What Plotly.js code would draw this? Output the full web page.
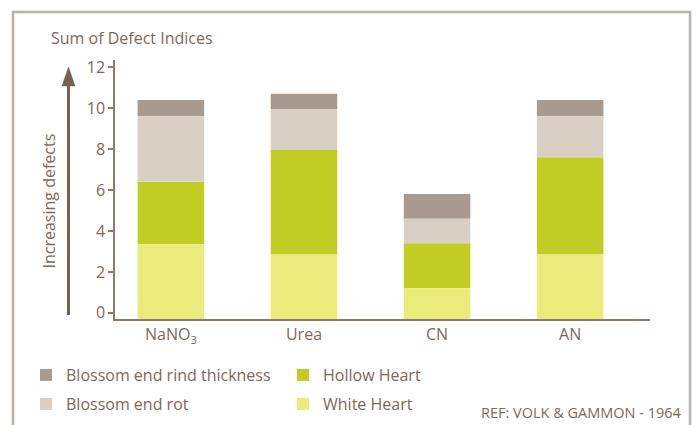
<!DOCTYPE html>
<html>
<head>
<meta charset="utf-8">
<script src="https://cdn.plot.ly/plotly-3.0.1.min.js"></script>
<style>html,body{margin:0;padding:0;background:#fff;}#chart{width:696px;height:425px;}</style>
</head>
<body>
<div id="chart"></div>
<script>
// ---- data ----
var categories = ["NaNO<sub>3</sub>", "Urea", "CN", "AN"];
var whiteHeart = [3.35, 2.85, 1.2, 2.85];
var hollowHeart = [3.05, 5.1, 2.2, 4.75];
var blossomEndRot = [3.2, 2.0, 1.2, 2.0];
var rindThickness = [0.8, 0.75, 1.2, 0.8];
var yTicks = [0, 2, 4, 6, 8, 10, 12];
var gridTicks = [2, 4, 6, 8, 10, 12];

// ---- layout constants ----
var W = 696, H = 425;
var M = {l: 115, r: 46, t: 60, b: 106, autoexpand: false};
var pw = W - M.l - M.r, ph = H - M.t - M.b;
function px(x) { return (x - M.l) / pw; }
function py(y) { return (H - M.b - y) / ph; }
var yMin = -0.3, yMax = 12.35;

var txt = "#7a695d";
var brown = "#8c7b6e";
var FONT = "Open Sans";

// bases from stacking
function add(a, b) { return a.map(function (v, i) { return v + b[i]; }); }
var base0 = categories.map(function () { return yMin; });
var whiteSeg = whiteHeart.map(function (v) { return v - yMin; });
var top1 = whiteHeart.slice();
var top2 = add(top1, hollowHeart);
var top3 = add(top2, blossomEndRot);

var common = {type: "bar", x: categories, width: 0.5, marker: {line: {width: 0}}, hoverinfo: "name+y"};
var data = [
  Object.assign({}, common, {name: "Blossom end rind thickness", y: rindThickness, base: top3, marker: {color: "#a89a8e"}, legend: "legend"}),
  Object.assign({}, common, {name: "Hollow Heart", y: hollowHeart, base: top1, marker: {color: "#c2cd23"}, legend: "legend"}),
  Object.assign({}, common, {name: "Blossom end rot", y: blossomEndRot, base: top2, marker: {color: "#d9cfc4"}, legend: "legend2"}),
  Object.assign({}, common, {name: "White Heart", y: whiteSeg, base: base0, marker: {color: "#ebeb7b"}, legend: "legend2"})
];

var legendCommon = {orientation: "h", xanchor: "left", yanchor: "middle", entrywidth: 212,
  font: {family: FONT, size: 16, color: txt}, bgcolor: "rgba(0,0,0,0)", itemclick: false, itemdoubleclick: false};

var layout = {
  width: W, height: H,
  margin: M,
  paper_bgcolor: "#ffffff", plot_bgcolor: "#ffffff",
  font: {family: FONT, size: 16, color: txt},
  barmode: "overlay",
  showlegend: true,
  title: {text: "Sum of Defect Indices", x: 51 / W, xref: "container", xanchor: "left",
          y: 1 - 38 / H, yref: "container", yanchor: "middle",
          font: {family: FONT, size: 16, color: txt}},
  xaxis: {type: "category", range: [-0.42, 3.6], showline: true, linecolor: brown, linewidth: 2,
          ticks: "", showgrid: false, zeroline: false, tickfont: {family: FONT, size: 16, color: txt}},
  yaxis: {range: [yMin, yMax], tickvals: yTicks, ticktext: yTicks.map(String), ticks: "outside", ticklen: 5,
          tickwidth: 1.5, tickcolor: brown, showline: true, linecolor: brown, linewidth: 1.5,
          showgrid: false, zeroline: false, tickfont: {family: FONT, size: 16, color: txt}},
  yaxis2: {overlaying: "y", anchor: "x", side: "left", range: [yMin, yMax], tickvals: gridTicks,
           showticklabels: false, ticks: "", showline: false, zeroline: false,
           showgrid: true, gridcolor: brown, gridwidth: 1.5},
  legend: Object.assign({}, legendCommon, {x: px(26), y: py(375)}),
  legend2: Object.assign({}, legendCommon, {x: px(26), y: py(404)}),
  shapes: [
    {type: "rect", xref: "paper", yref: "paper", x0: px(13), x1: px(690), y0: py(440), y1: py(12),
     line: {color: "#bdb2a9", width: 2.5}, fillcolor: "rgba(0,0,0,0)", layer: "below"},
    {type: "line", xref: "paper", yref: "paper", x0: px(68.5), x1: px(68.5), y0: py(315), y1: py(84),
     line: {color: "#76624f", width: 3}},
    {type: "path", xref: "paper", yref: "paper",
     path: "M" + px(62) + "," + py(86) + " L" + px(75) + "," + py(86) + " L" + px(68.5) + "," + py(67) + " Z",
     fillcolor: "#76624f", line: {color: "#76624f", width: 0.5}}
  ],
  annotations: [
    {text: "Increasing defects", xref: "paper", yref: "paper", x: px(48), y: py(201.5), textangle: -90,
     showarrow: false, xanchor: "center", yanchor: "middle", font: {family: FONT, size: 16, color: txt}},
    {text: "REF: VOLK &amp; GAMMON - 1964", xref: "paper", yref: "paper", x: px(684), y: py(412),
     showarrow: false, xanchor: "right", yanchor: "middle", font: {family: FONT, size: 14.5, color: txt}}
  ]
};

Plotly.newPlot("chart", data, layout, {displayModeBar: false, staticPlot: false});
</script>
</body>
</html>
